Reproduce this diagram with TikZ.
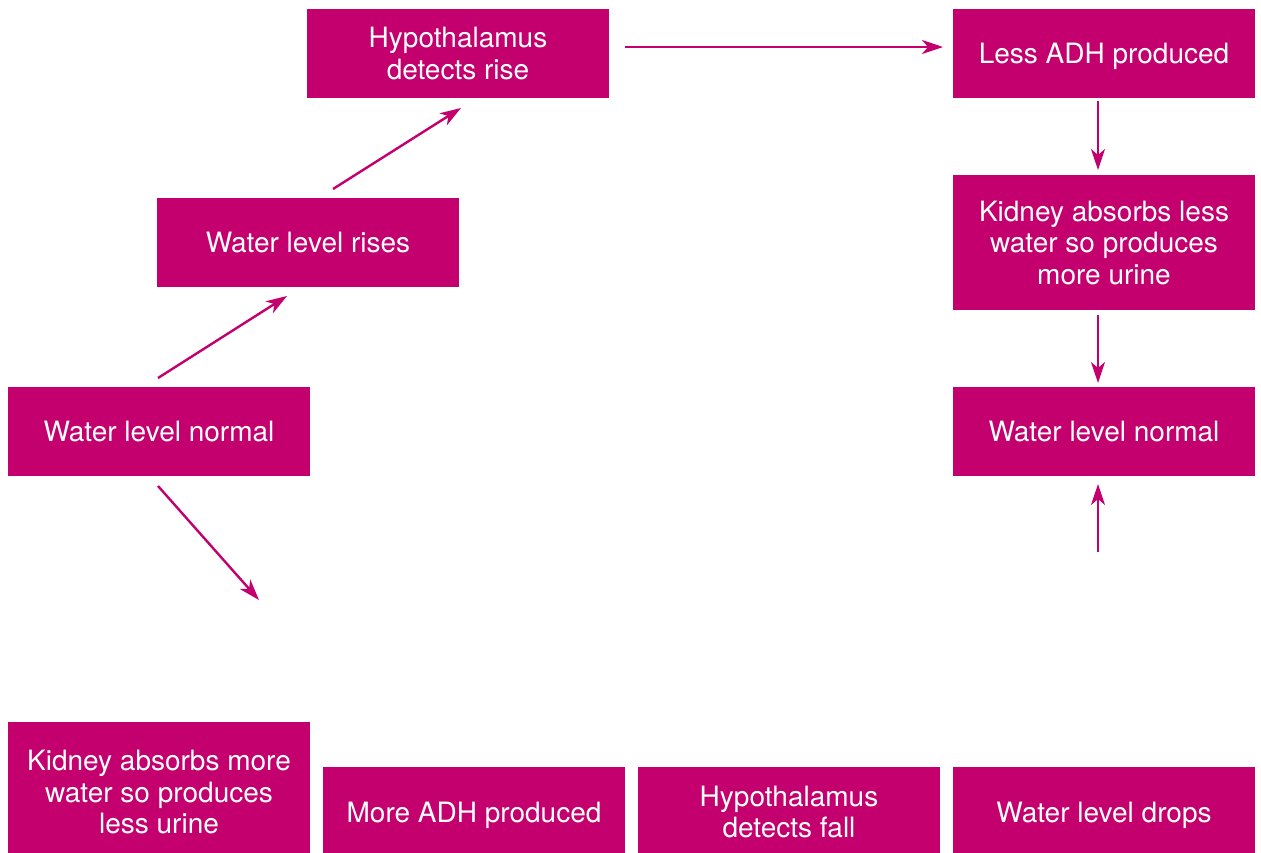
\documentclass[tikz,border=0pt]{standalone}
\usepackage{fontspec}
\setmainfont{TeX Gyre Heros}
\usetikzlibrary{arrows.meta,positioning}
\definecolor{adhpink}{RGB}{196,0,111}

\begin{document}
\begin{tikzpicture}[x=1pt,y=-1pt,
every node/.style={fill=adhpink,text=white,align=center,inner sep=0pt,
  minimum width=302pt,minimum height=89pt,
  font=\fontsize{28}{31.5}\selectfont},
one/.style={text height=26pt,text depth=6pt},
flow/.style={draw=adhpink,line width=2.4pt,
  -{Stealth[length=21pt,width=14pt,inset=6pt]}}]
\useasboundingbox (0,0) rectangle (1261,852);
\node (HR) at (458,53.5) {Hypothalamus\\detects rise};
\node[one] (LA) at (1104,53.5) {Less ADH produced};
\node[one] (WR) at (308,242.5) {Water level rises};
\node[minimum height=135pt] (KL) at (1104,242.5) {Kidney absorbs less\\water so produces\\more urine};
\node[one] (NR) at (1104,431.5) {Water level normal};
\node[one] (NL) at (159,431.5) {Water level normal};
\node[minimum height=140pt] (KM) at (159,792) {Kidney absorbs more\\water so produces\\less urine};
\node[one,minimum height=90pt] (MA) at (474,812) {More ADH produced};
\node[minimum height=90pt] (HF) at (789,812) {Hypothalamus\\detects fall};
\node[one,minimum height=90pt] (WD) at (1104,812) {Water level drops};
% arrow ends
\coordinate (a1) at (158,378);
\coordinate (b1) at (287,296);
\coordinate (a2) at (333,189);
\coordinate (b2) at (461,108);
\coordinate (a3) at (625,47);
\coordinate (b3) at (943,47);
\coordinate (a4) at (1098,101);
\coordinate (b4) at (1098,170);
\coordinate (a5) at (1098,315);
\coordinate (b5) at (1098,383);
\coordinate (a6) at (1098,552);
\coordinate (b6) at (1098,484);
\coordinate (a7) at (158,486);
\coordinate (b7) at (259,600);
\draw[flow] (a1)--(b1);
\draw[flow] (a2)--(b2);
\draw[flow] (a3)--(b3);
\draw[flow] (a4)--(b4);
\draw[flow] (a5)--(b5);
\draw[flow] (a6)--(b6);
\draw[flow] (a7)--(b7);
\end{tikzpicture}
\end{document}
